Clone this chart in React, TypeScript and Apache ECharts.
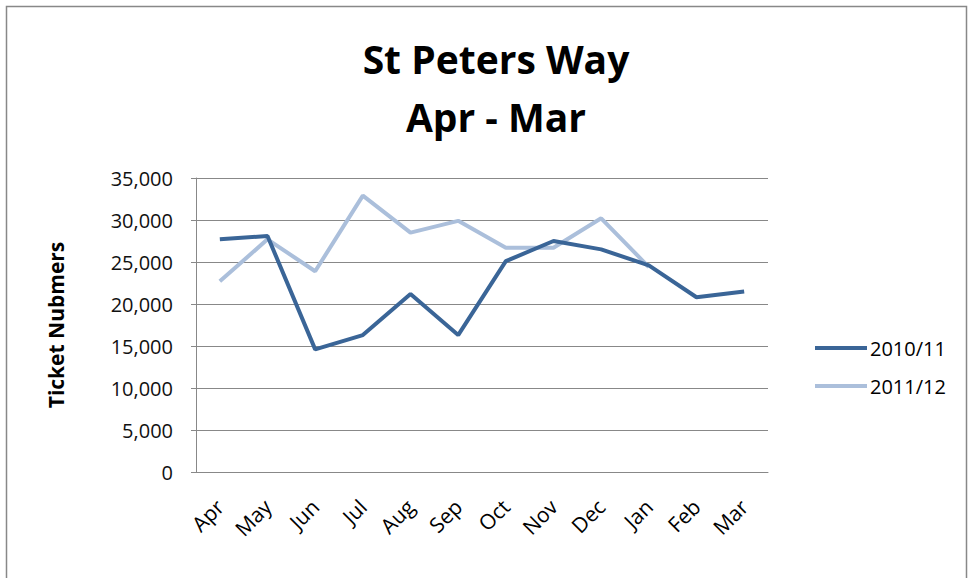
import React, { useEffect, useRef } from "react";
import * as echarts from "echarts";

const categories = ["Apr", "May", "Jun", "Jul", "Aug", "Sep", "Oct", "Nov", "Dec", "Jan", "Feb", "Mar"];
const series2010 = [27700, 28100, 14600, 16300, 21200, 16300, 25100, 27500, 26500, 24600, 20800, 21500];
const series2011 = [22700, 27700, 23900, 32900, 28500, 29900, 26700, 26700, 30200, 24400, null, null];
const titleLines = ["St Peters Way", "Apr - Mar"];
const yAxisName = "Ticket Nubmers";

export default function App() {
  const ref = useRef<HTMLDivElement>(null);
  useEffect(() => {
    if (!ref.current) return;
    const chart = echarts.init(ref.current, undefined, { renderer: "svg" });
    const font = "'Open Sans', 'Noto Sans', sans-serif";
    chart.setOption({
      animation: false,
      backgroundColor: "#ffffff",
      textStyle: { fontFamily: font },
      title: {
        text: titleLines.join("\n"),
        left: 491,
        top: 24,
        textAlign: "center",
        textStyle: { fontSize: 39, fontWeight: "bold", color: "#000", lineHeight: 58, fontFamily: font },
      },
      graphic: [
        {
          type: "rect",
          shape: { x: 6.5, y: 6.5, width: 960, height: 620 },
          style: { fill: "none", stroke: "#888", lineWidth: 1.5 },
          silent: true,
        },
      ],
      legend: {
        orient: "vertical",
        left: 810,
        top: 333,
        itemWidth: 52,
        itemHeight: 4,
        itemGap: 18,
        icon: "rect",
        textStyle: { fontSize: 20, color: "#000", fontFamily: font, padding: [0, 0, 0, -2] },
        data: ["2010/11", "2011/12"],
      },
      grid: { left: 196, right: 201, top: 178, bottom: 106, containLabel: false },
      xAxis: {
        type: "category",
        data: categories,
        boundaryGap: true,
        axisLine: { lineStyle: { color: "#888", width: 1 } },
        axisTick: { show: false },
        axisLabel: { rotate: 45, fontSize: 21, color: "#000", margin: 31, interval: 0 },
      },
      yAxis: {
        type: "value",
        min: 0,
        max: 35000,
        interval: 5000,
        name: yAxisName,
        nameLocation: "middle",
        nameGap: 130,
        nameRotate: 90,
        nameTextStyle: { fontSize: 21, fontWeight: "bold", color: "#000" },
        axisLine: { show: true, lineStyle: { color: "#888", width: 1 } },
        axisTick: { show: true, length: 5, lineStyle: { color: "#888" } },
        splitLine: { lineStyle: { color: "#888", width: 1 } },
        axisLabel: {
          fontSize: 20,
          color: "#111",
          margin: 23,
          formatter: (v: number) => v.toLocaleString("en-US"),
        },
      },
      series: [
        {
          name: "2010/11",
          type: "line",
          data: series2010,
          symbol: "none",
          lineStyle: { color: "#3A6597", width: 4 },
          itemStyle: { color: "#3A6597" },
          z: 3,
        },
        {
          name: "2011/12",
          type: "line",
          data: series2011,
          symbol: "none",
          lineStyle: { color: "#ABBFDB", width: 4 },
          itemStyle: { color: "#ABBFDB" },
          z: 2,
        },
      ],
    });
    return () => chart.dispose();
  }, []);
  return (
    <div
      ref={ref}
      style={{ position: "fixed", left: 0, top: 0, width: 969, height: 578 }}
    />
  );
}
